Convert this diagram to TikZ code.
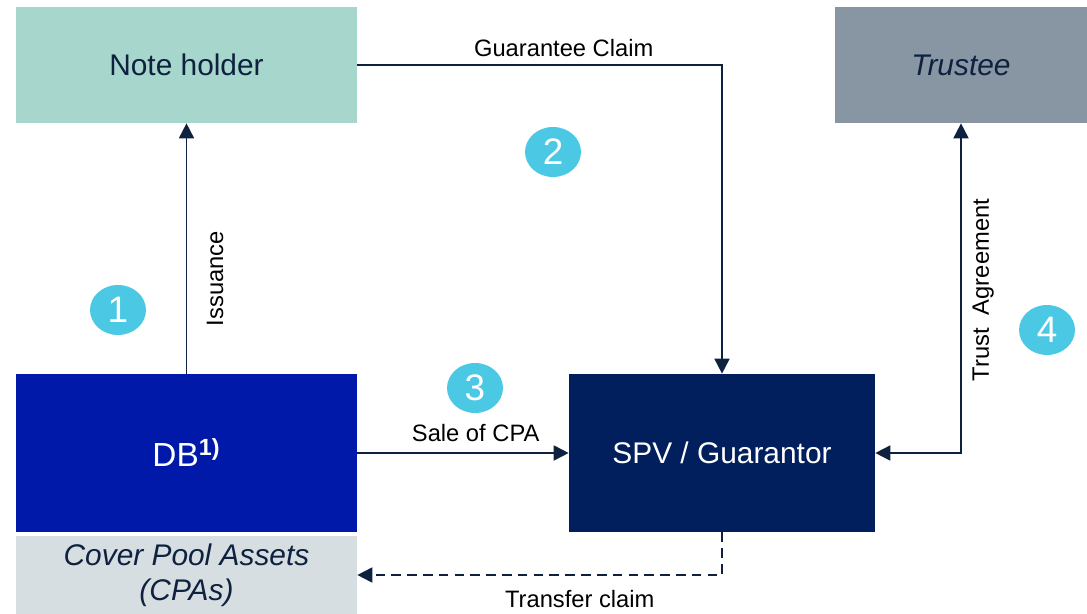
\documentclass[tikz,border=0pt]{standalone}
\usepackage{fontspec}
\setmainfont{Liberation Sans}
\usetikzlibrary{arrows.meta, positioning, calc, shapes.geometric}

\definecolor{inkblue}{HTML}{0E2240}
\definecolor{holderteal}{HTML}{A7D6CC}
\definecolor{trusteegrey}{HTML}{8895A2}
\definecolor{dbblue}{HTML}{0019A8}
\definecolor{spvnavy}{HTML}{001F5C}
\definecolor{poolgrey}{HTML}{D7DEE2}
\definecolor{stepcyan}{HTML}{4BC8E3}

\begin{document}
\begin{tikzpicture}[
    x=0.02cm, y=-0.02cm,
    >={Triangle[length=3mm, width=3mm]}, % Filled arrowheads
    party/.style={rectangle, inner sep=0pt, font=\fontsize{17}{20}\selectfont, align=center}, % Style for the boxes
    flow/.style={->, line width=1pt, draw=inkblue}, % Style for connectors
    flowlabel/.style={font=\fontsize{13.5}{16}\selectfont, text=black, inner sep=3pt},
    numdot/.style={ellipse, fill=stepcyan, minimum width=1.12cm, minimum height=1cm, inner sep=0pt, text=white, font=\fontsize{21}{24}\selectfont} % Numbered markers
]
    \useasboundingbox (0,0) rectangle (1087,614);

    % === Parties ===
    \node[party, fill=holderteal, text=inkblue, minimum width=6.82cm, minimum height=2.32cm] (holder) at (186.5,65) {Note holder};
    \node[party, fill=trusteegrey, text=inkblue, minimum width=5.04cm, minimum height=2.32cm, font=\fontsize{17}{20}\selectfont\itshape] (trustee) at (961,65) {Trustee};
    \node[party, fill=dbblue, text=white, minimum width=6.82cm, minimum height=3.16cm, font=\fontsize{19}{22}\selectfont] (db) at (186.5,453) {DB\textsuperscript{\textbf{1)}}};
    \node[party, fill=poolgrey, text=inkblue, minimum width=6.82cm, minimum height=1.56cm, font=\fontsize{17}{20}\selectfont\itshape] (pool) at (186.5,575) {Cover Pool Assets\\(CPAs)};
    \node[party, fill=spvnavy, text=white, minimum width=6.12cm, minimum height=3.16cm] (spv) at (722,453) {SPV / Guarantor};

    % === Connectors ===
    \draw[flow] (db.north) -- node[flowlabel, pos=0.38, rotate=90, anchor=north, yshift=-8pt] {Issuance} (holder.south);
    \draw[flow] (holder.east) -| node[flowlabel, pos=0.283, above, yshift=1pt] {Guarantee Claim} (spv.north);
    \draw[flow] (db.east) -- node[flowlabel, pos=0.56, above, yshift=3pt] {Sale of CPA} (spv.west);
    \draw[flow, <->] (spv.east) -| node[flowlabel, pos=0.747, rotate=90, anchor=north, yshift=-3pt] {Trust\ \ Agreement} (trustee.south);
    \draw[flow, dash pattern=on 5.5pt off 3.5pt] (spv.south) |- node[flowlabel, pos=0.695, below, yshift=-5pt] {Transfer claim} (pool.east);

    % === Numbered markers ===
    \node[numdot] (one) at (118,310) {1};
    \node[numdot] (two) at (553,152) {2};
    \node[numdot] (three) at (475,388) {3};
    \node[numdot] (four) at (1047,330) {4};
\end{tikzpicture}
\end{document}
